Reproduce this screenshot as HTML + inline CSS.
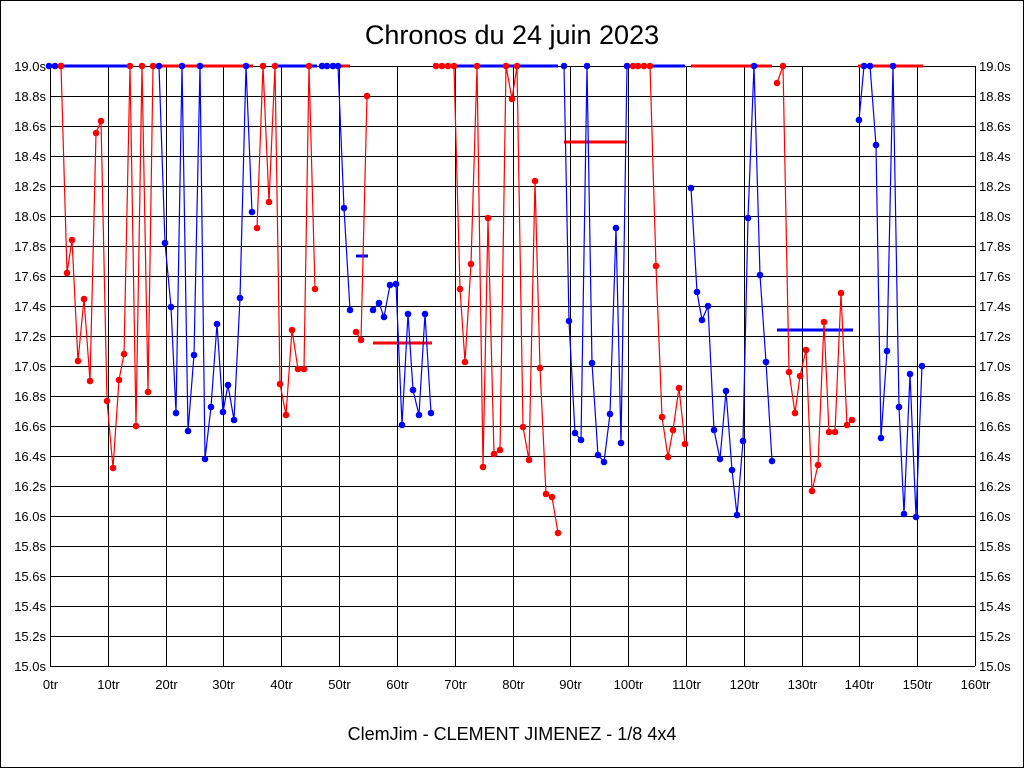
<!DOCTYPE html>
<html><head><meta charset="utf-8"><style>
body{margin:0;background:#fff}
svg{display:block;font-family:"Liberation Sans",sans-serif}
</style></head><body>
<svg width="1024" height="768" viewBox="0 0 1024 768">
<rect x="0" y="0" width="1024" height="768" fill="#fff"/>
<rect x="0.5" y="0.5" width="1023" height="767" fill="none" stroke="#000"/>
<text x="512" y="44" font-size="27" text-anchor="middle">Chronos du 24 juin 2023</text>
<text x="512" y="740" font-size="18" text-anchor="middle">ClemJim - CLEMENT JIMENEZ - 1/8 4x4</text>
<g id="grid" stroke="#000" stroke-width="1"></g>
<g id="labels" font-size="13"></g>
<g id="bars"></g>
<g id="series"></g>
</svg>
<script>
const NS="http://www.w3.org/2000/svg";
function el(p,t,a,txt){const e=document.createElementNS(NS,t);for(const k in a)e.setAttribute(k,a[k]);if(txt!==undefined)e.textContent=txt;p.appendChild(e);return e;}
const g=document.getElementById('grid'),L=document.getElementById('labels');
for(let i=0;i<=20;i++){const y=66+i*30;el(g,'line',{x1:50,x2:975,y1:y+0.5,y2:y+0.5});
 const v=(19-i*0.2).toFixed(1)+'s';el(L,'text',{x:46,y:y+5,'text-anchor':'end'},v);el(L,'text',{x:979,y:y+5},v);}
for(let i=0;i<=16;i++){const x=Math.round(50+i*925/16)+0.5;el(g,'line',{x1:x,x2:x,y1:66,y2:666});
 el(L,'text',{x:x,y:689,'text-anchor':'middle'},(i*10)+'tr');}
const B=document.getElementById('bars');
const bars=[['b',49,130,66],['r',153,253,66],['b',273,317,66],['r',338,350,66],['b',356,368,256],['r',373,432,343],
['b',454,558,66],['r',564,627,142],['b',627,685,66],['r',691,772,66],['r',858,923,66],['b',777,853,330]];
const C={r:'#f00',b:'#00f'};
bars.forEach(b=>el(B,'line',{x1:b[1],x2:b[2],y1:b[3],y2:b[3],stroke:C[b[0]],'stroke-width':3}));
const S=document.getElementById('series');
const segs=[
['r',[[61,66],[67,273],[72,240],[78,361],[84,299],[90,381],[96,133],[101,121],[107,401],[113,468],[119,380],[124,354],[130,66],[136,426],[142,66],[148,392],[153,66]]],
['b',[[159,66],[165,243],[171,307],[176,413],[182,66],[188,431],[194,355],[200,66],[205,459],[211,407],[217,324],[223,412],[228,385],[234,420],[240,298],[246,66],[252,212]]],
['r',[[257,228],[263,66],[269,202],[275,66],[280,384],[286,415],[292,330],[298,369],[304,369],[309,66],[315,289]]],
['b',[[338,66],[344,208],[350,310]]],
['r',[[356,332],[361,340],[367,96]]],
['b',[[373,310],[379,303],[384,317],[390,285],[396,284],[402,425],[408,314],[413,390],[419,415],[425,314],[431,413]]],
['r',[[454,66],[460,289],[465,362],[471,264],[477,66],[483,467],[488,218],[494,454],[500,450],[506,66],[512,99],[517,66],[523,427],[529,460],[535,181],[540,368],[546,494],[552,497],[558,533]]],
['b',[[564,66],[569,321],[575,433],[581,440],[587,66],[592,363],[598,455],[604,462],[610,414],[616,228],[621,443],[627,66]]],
['r',[[650,66],[656,266],[662,417],[668,457],[673,430],[679,388],[685,444]]],
['b',[[691,188],[697,292],[702,320],[708,306],[714,430],[720,459],[726,391],[732,470],[737,515],[743,441],[748,218],[754,66],[760,275],[766,362],[772,461]]],
['r',[[777,83],[783,66],[789,372],[795,413],[800,376],[806,350],[812,491],[818,465],[824,322],[829,432],[835,432],[841,293],[847,425],[852,420]]],
['b',[[859,120],[864,66],[870,66],[876,145],[881,438],[887,351],[893,66],[899,407],[904,514],[910,374],[916,517],[922,366]]]
];
segs.forEach(s=>{el(S,'polyline',{points:s[1].map(p=>p.join(',')).join(' '),fill:'none',stroke:C[s[0]],'stroke-width':1.2});
 s[1].forEach(p=>el(S,'circle',{cx:p[0],cy:p[1],r:3.3,fill:C[s[0]]}));});
const extra=[['b',49,66],['b',55,66],['r',61,66],['b',322,66],['b',327,66],['b',333,66],['r',436,66],['r',442,66],['r',448,66],['r',633,66],['r',638,66],['r',644,66]];
extra.forEach(d=>el(S,'circle',{cx:d[1],cy:d[2],r:3.3,fill:C[d[0]]}));
</script>
</body></html>
